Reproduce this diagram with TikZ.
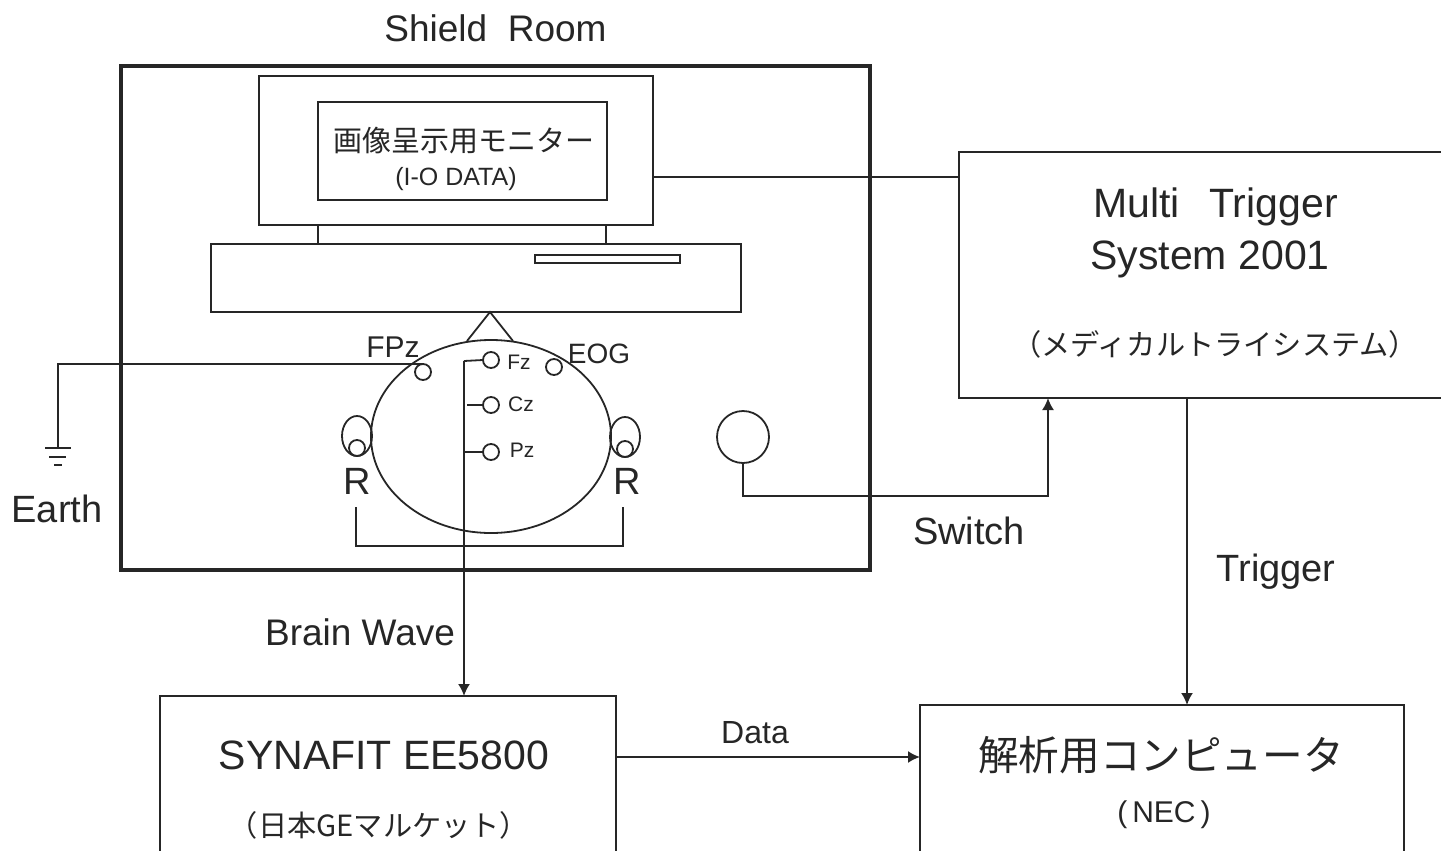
\documentclass[tikz,border=0pt]{standalone}
\usepackage{fontspec}
\usepackage{tikz}
\usetikzlibrary{arrows.meta, shapes.geometric}
\setmainfont{Liberation Sans}
\newfontfamily\cjk{Noto Sans CJK JP}
\begin{document}
\begin{tikzpicture}[x=0.5pt, y=-0.5pt, line width=0.9pt, color=black!85,
  main/.style = {draw, rectangle, inner sep=0pt, outer sep=0pt},
  electrode/.style = {draw, circle, inner sep=0pt, outer sep=0pt, minimum size=8pt},
  ear/.style = {draw, ellipse, inner sep=0pt, outer sep=0pt, minimum width=15pt, minimum height=20pt},
  huge/.style = {font=\fontsize{20.5}{20.5}\selectfont, inner sep=0pt},
  big/.style = {font=\fontsize{19}{19}\selectfont, inner sep=0pt},
  mid/.style = {font=\fontsize{14}{14}\selectfont, inner sep=0pt},
  small/.style = {font=\fontsize{10.5}{10.5}\selectfont, inner sep=0pt},
  arrow/.style = {-{Latex[length=6pt,width=6pt]}}]
\useasboundingbox (0,0) rectangle (1441,851);
\clip (0,0) rectangle (1441,851);
% room
\node[main, line width=1.6pt, minimum width=374.5pt, minimum height=252pt] (room) at (495.5,318) {};
\node[big, font=\fontsize{18.5}{18.5}\selectfont] (roomlabel) at (495.5,28) {Shield\ \ Room};
% monitor
\node[main, minimum width=197pt, minimum height=74.5pt] (monitor) at (456,150.5) {};
\node[main, minimum width=144.5pt, minimum height=49pt] (screen) at (462.5,151) {};
\node[inner sep=0pt, font=\cjk\fontsize{14.5}{14.5}\selectfont] (screentext) at (463.5,141) {画像呈示用モニター};
\node[small, font=\fontsize{12.5}{12.5}\selectfont] (screenmaker) at (456,179) {(I-O DATA)};
\node[main, minimum width=265pt, minimum height=34pt] (base) at (476,278) {};
\node[main, minimum width=72.5pt, minimum height=4pt] (slot) at (607.5,259) {};
\draw (318,225) -- (318,244);
\draw (606,225) -- (606,244);
% head
\node[draw, ellipse, inner sep=0pt, outer sep=0pt, minimum width=120pt, minimum height=96.5pt] (head) at (491,436.5) {};
\draw (467,341) -- (490,312) -- (513,341);
\node[electrode] (fpz) at (423,372) {};
\node[electrode] (eog) at (554,367) {};
\node[electrode] (fz) at (491,360) {};
\node[electrode] (cz) at (491,405) {};
\node[electrode] (pz) at (491,452) {};
\node[mid, font=\fontsize{15}{15}\selectfont] (fpzlabel) at (393,347) {FPz};
\node[mid] (eoglabel) at (599,354) {EOG};
\node[small] (fzlabel) at (519,362) {Fz};
\node[small] (czlabel) at (521,404) {Cz};
\node[small] (pzlabel) at (522,450) {Pz};
% ears
\node[ear] (earl) at (357,436) {};
\node[ear] (earr) at (625,437) {};
\node[electrode] (refl) at (357,448) {};
\node[electrode] (refr) at (625,449) {};
\node[big] (rl) at (357,481) {R};
\node[big] (rr) at (627,481) {R};
\coordinate (bl) at (356,507);
\coordinate (br) at (623,507);
\draw (bl) -- ++(0,39) -| (br);
% earth
\coordinate (gnd) at (58,448);
\draw (fpz.north) -- (fpz.north -| gnd) -- (gnd);
\draw (45,448) -- (71,448);
\draw (49,457) -- (66,457);
\draw (54,465) -- (62,465);
\node[big] (earth) at (57,509) {Earth};
% switch
\node[draw, circle, inner sep=0pt, outer sep=0pt, minimum size=26pt] (switch) at (743,437) {};
\node[big] (switchlabel) at (969,531) {Switch};
% trigger box
\node[main, minimum width=260pt, minimum height=123pt] (multi) at (1219,275) {};
\node[huge] (multi1) at (1215.5,207) {Multi\ \ \,Trigger};
\node[huge] (multi2) at (1210,259) {System 2001};
\node[inner sep=0pt, font=\cjk\fontsize{14.6}{14.6}\selectfont] (multi3) at (1215,344) {（メディカルトライシステム）};
% lower boxes
\node[main, minimum width=228pt, minimum height=90pt] (synafit) at (388,786) {};
\node[huge] (syn1) at (384,755) {SYNAFIT EE5800};
\node[inner sep=0pt, font=\cjk\fontsize{14.6}{14.6}\selectfont] (syn2) at (379,825) {（日本GEマルケット）};
\node[main, minimum width=242pt, minimum height=90pt] (pc) at (1162,795) {};
\node[inner sep=0pt, font=\cjk\fontsize{20.3}{20.3}\selectfont] (pc1) at (1161,755) {解析用コンピュータ};
\node[inner sep=0pt, font=\fontsize{15}{15}\selectfont] (pc2) at (1164,815) {(\,NEC\,)};
% wires
\coordinate (monout) at (653,177);
\draw (monout) -- (monout -| multi.west);
\coordinate (swin) at (1048,398);
\draw[arrow] (switch.south) |- (1048,496) -- (swin);
\coordinate (trigout) at (1187,398);
\coordinate (trigin) at (1187,705);
\draw[arrow] (trigout) -- (trigin);
\node[big] (triggerlabel) at (1276,572) {Trigger};
\coordinate (dataout) at (616,757);
\draw[arrow] (dataout) -- (dataout -| pc.west);
\node[small, font=\fontsize{16}{16}\selectfont] (datalabel) at (755,733) {Data};
% brain wave
\coordinate (wavetop) at (464,361);
\coordinate (wavein) at (464,696);
\draw[arrow] (wavetop) -- (wavein);
\draw (wavetop) -- (fz.west);
\draw (467,405) -- (cz.west);
\draw (464,452) -- (pz.west);
\node[big, font=\fontsize{18.5}{18.5}\selectfont] (wavelabel) at (360,632) {Brain Wave};
\end{tikzpicture}
\end{document}
